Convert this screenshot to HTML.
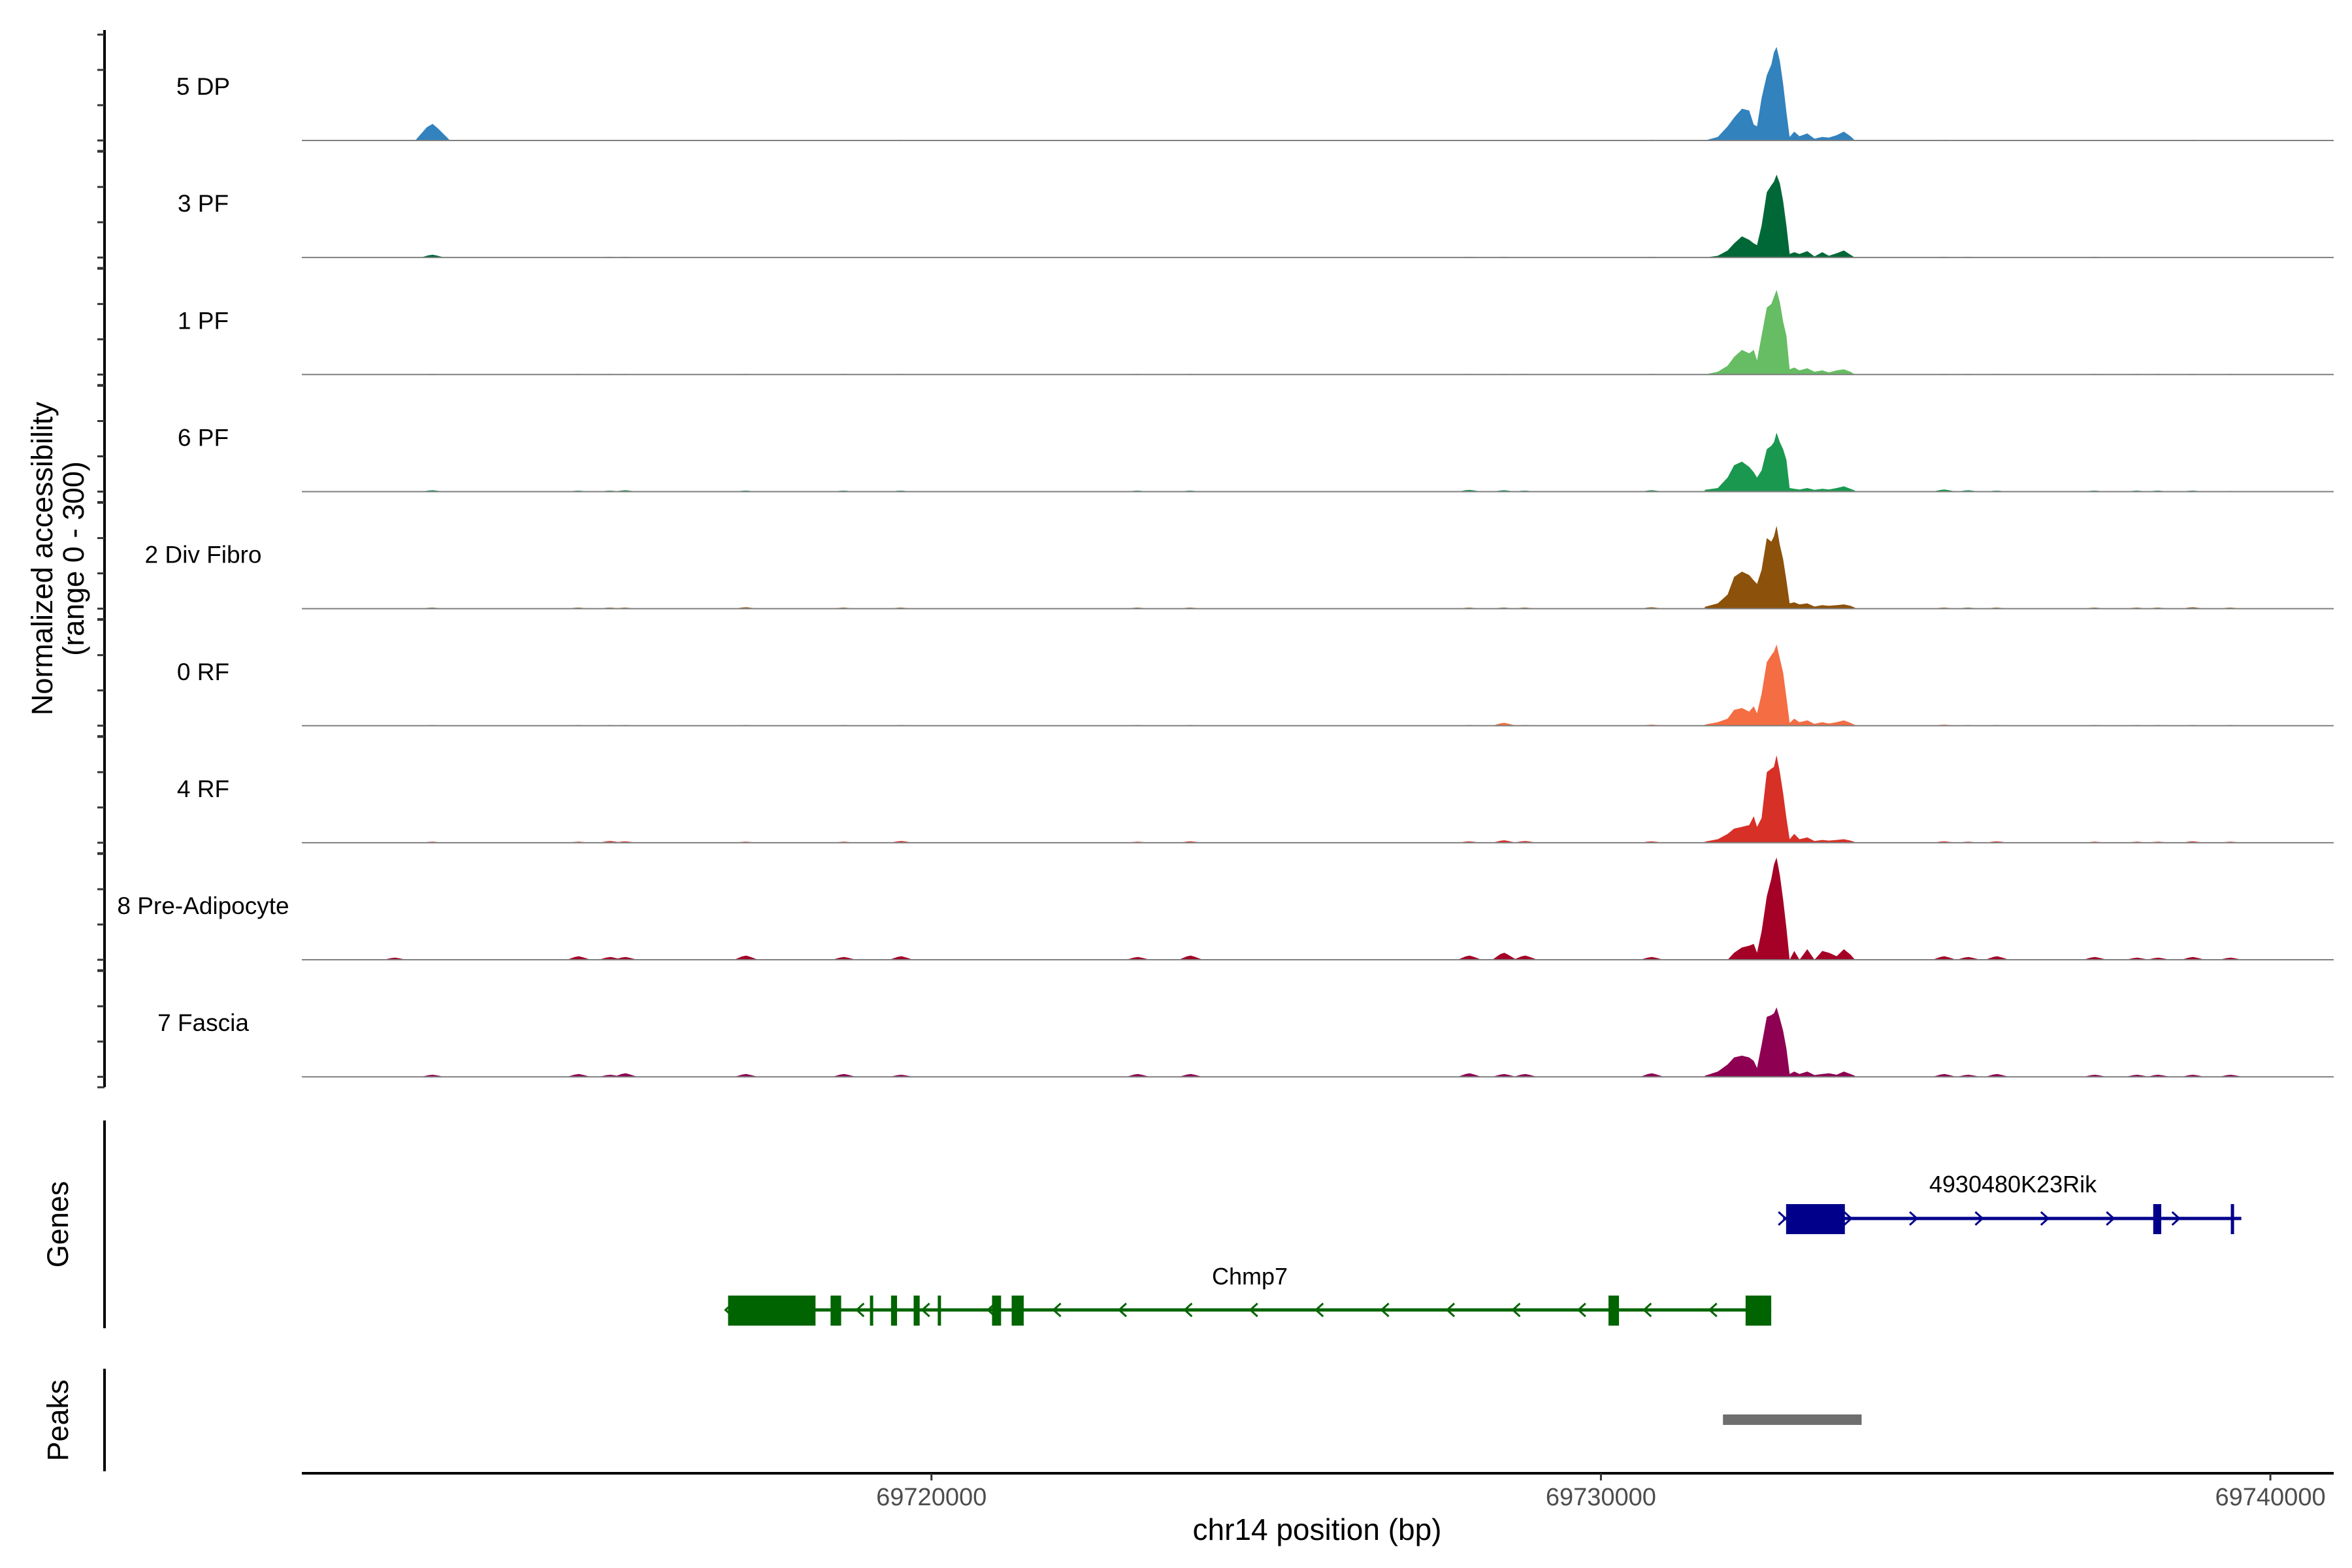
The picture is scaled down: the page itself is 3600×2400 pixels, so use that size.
<!DOCTYPE html>
<html><head><meta charset="utf-8"><style>
html,body{margin:0;padding:0;background:#fff}
svg{display:block;font-family:"Liberation Sans",Arial,sans-serif}
</style></head><body>
<svg id="chart" width="3600" height="2400" viewBox="0 0 3600 2400" xmlns="http://www.w3.org/2000/svg">
<g id="tracks"></g>
<g id="yaxis"></g>
<text transform="translate(80,855) rotate(-90)" text-anchor="middle" font-size="45" fill="#000">Normalized accessibility</text>
<text transform="translate(128,855) rotate(-90)" text-anchor="middle" font-size="45" fill="#000">(range 0 - 300)</text>
<g id="genes"></g>
<line x1="160" y1="1715" x2="160" y2="2033" stroke="#000" stroke-width="4"/>
<text transform="translate(104,1874) rotate(-90)" text-anchor="middle" font-size="45">Genes</text>
<line x1="160" y1="2095" x2="160" y2="2252" stroke="#000" stroke-width="4"/>
<text transform="translate(104,2174) rotate(-90)" text-anchor="middle" font-size="45">Peaks</text>
<g id="peaks"></g>
<g id="xaxis"></g>
<text x="2016" y="2357" text-anchor="middle" font-size="46" fill="#000">chr14 position (bp)</text>
</svg>
<script>
const trackNames = ["5 DP","3 PF","1 PF","6 PF","2 Div Fibro","0 RF","4 RF","8 Pre-Adipocyte","7 Fascia"];
const trackColors = ["#3182bd","#006837","#66bd63","#1a9850","#8c510a","#f46d43","#d73027","#a50026","#8e0152"];
const peakPositions = [69731551,69731746,69731893,69731990,69732107,69732215,69732283,69732332,69732400,69732478,69732546,69732585,69732624,69732673,69732722,69732771,69732819,69732888,69732966,69733083,69733190,69733307,69733405,69733522,69733629,69733727,69733795];
const valsDP5 = [0,10,40,65,90,85,45,40,120,185,215,250,265,225,160,80,10,25,12,20,5,10,8,15,25,12,0];
const valsPF3 = [0,5,20,40,60,50,40,35,90,185,205,215,235,210,160,90,10,15,10,18,3,15,5,12,20,8,0];
const valsPF1 = [0,8,25,50,70,60,70,40,110,190,200,220,240,205,150,110,15,20,12,18,8,12,6,12,15,8,0];
const valsPF6 = [5,10,40,75,85,70,55,40,60,120,130,140,167,140,120,90,10,8,6,10,5,8,6,10,15,8,3];
const valsDiv2 = [5,15,40,90,105,95,80,70,110,200,190,205,235,180,140,80,15,18,12,15,6,10,8,10,12,8,3];
const valsRF0 = [3,10,20,45,50,40,55,35,90,180,200,210,230,190,150,80,8,20,10,15,5,10,6,10,15,8,2];
const valsRF4 = [3,10,25,40,45,50,75,45,70,200,210,215,248,200,140,70,10,25,10,15,5,8,6,8,10,6,2];
const valsPre8 = [0,0,0,20,35,40,45,20,80,180,230,270,290,240,170,90,0,25,0,30,0,25,20,10,30,15,0];
const valsFas7 = [3,15,35,55,60,55,45,25,90,170,175,180,197,165,130,80,8,15,8,15,5,8,10,6,15,8,3];
const allVals = [valsDP5,valsPF3,valsPF1,valsPF6,valsDiv2,valsRF0,valsRF4,valsPre8,valsFas7];
const bumpPos = [69711987,69712549,69714733,69715206,69715431,69717232,69718696,69719551,69723086,69723874,69728039,69728557,69728872,69730763,69735131,69735491,69735919,69737382,69738013,69738328,69738846,69739409];
const bumpDP5 = [0,47,0,0,0,0,0,2,0,0,0,0,0,2,2,0,0,0,0,0,2,0];
const bumpPF3 = [0,8,0,2,2,0,0,0,0,0,2,2,0,2,2,2,0,2,0,0,0,0];
const bumpPF1 = [0,2,2,2,2,2,2,2,2,2,2,2,2,2,2,2,2,2,2,2,2,2];
const bumpPF6 = [0,4,3,3,4,3,3,3,3,3,5,4,3,4,6,4,3,3,3,3,3,2];
const bumpDiv2 = [0,3,3,3,3,4,3,3,3,3,3,3,3,4,3,3,3,3,3,3,4,3];
const bumpRF0 = [0,2,2,2,2,2,2,2,2,2,2,8,2,3,3,2,2,2,2,2,2,2];
const bumpRF4 = [0,3,3,5,4,3,3,5,3,4,4,7,5,4,4,3,4,3,3,3,4,3];
const bumpPre8 = [6,0,10,8,8,12,8,10,8,12,12,20,12,8,10,8,10,8,6,6,8,6];
const bumpFas7 = [0,6,8,6,10,8,8,6,8,8,10,8,8,10,8,6,8,6,6,6,6,6];
const allBumps = [bumpDP5,bumpPF3,bumpPF1,bumpPF6,bumpDiv2,bumpRF0,bumpRF4,bumpPre8,bumpFas7];
const xTicks = [69720000,69730000,69740000];
const xTickLabels = ["69720000","69730000","69740000"];
const peakRegions = [[69731823,69733894]];
const geneNames = ["4930480K23Rik","Chmp7"];
const geneStrands = [1,-1];
const geneStarts = [69732721,69716962];
const geneEnds = [69739566,69732544];
const geneExons = [
  [[69732766,69733644],[69738250,69738370],[69739409,69739454]],
  [[69716962,69718268],[69718493,69718651],[69719081,69719126],[69719396,69719486],[69719734,69719824],[69720094,69720117],[69720905,69721040],[69721198,69721378],[69730113,69730270],[69732161,69732544]]
];
const geneColors = ["#00008b","#006400"];

const NS="http://www.w3.org/2000/svg";
const X0=462,X1=3572,D0=69710595,D1=69740946;
function xs(bp){return X0+(bp-D0)*(X1-X0)/(D1-D0);}
const BASE0=215,STEP=179.15,HPX=162/300;
function ys(i,v){return BASE0+i*STEP - v*HPX;}
function mk(tag,attrs,parent){const e=document.createElementNS(NS,tag);for(const k in attrs)e.setAttribute(k,attrs[k]);parent.appendChild(e);return e;}

const gT=document.getElementById('tracks');
trackNames.forEach((name,i)=>{
  const base=ys(i,0);
  const g=mk('g',{},gT);
  
  
  bumpPos.forEach((p,j)=>{
    const v=allBumps[i][j]; if(!v) return;
    const w=(p===69712549&&i===0)?260:180;
    const pb=mk('path',{d:`M${xs(p-w)},${base} L${xs(p-w/3)},${ys(i,v*0.8)} L${xs(p)},${ys(i,v)} L${xs(p+w/3)},${ys(i,v*0.7)} L${xs(p+w)},${base} Z`,fill:trackColors[i]},g);
    
    
  });
  let d=`M${xs(peakPositions[0])},${base}`;
  peakPositions.forEach((p,j)=>{d+=` L${xs(p)},${ys(i,allVals[i][j])}`;});
  d+=` L${xs(peakPositions[peakPositions.length-1])},${base} Z`;
  const pa=mk('path',{d:d,fill:trackColors[i]},g);
  
  
  const bl=mk('line',{x1:X0,x2:X1,y1:base,y2:base,stroke:'#7f7f7f','stroke-width':2},g);
  
  
  const t=mk('text',{x:311,y:base-70,'text-anchor':'middle','font-size':37,fill:'#000'},g);
  t.textContent=name;
  
  
});

const gY=document.getElementById('yaxis');
const yl=mk('line',{x1:160,x2:160,y1:46,y2:1664,stroke:'#000','stroke-width':4},gY);


trackNames.forEach((n,i)=>{
  [0,100,200,300].forEach(v=>{
    const tk=mk('line',{x1:149,x2:160,y1:ys(i,v),y2:ys(i,v),stroke:'#333','stroke-width':3},gY);
    
    
  });
  const tk=mk('line',{x1:149,x2:160,y1:ys(i,0)+16,y2:ys(i,0)+16,stroke:'#333','stroke-width':3},gY);
  
  
});

const gG=document.getElementById('genes');
const geneY=[1865,2005];
geneNames.forEach((gn,k)=>{
  const g=mk('g',{},gG);
  
  
  const c=geneColors[k],y=geneY[k];
  const ln=mk('line',{x1:xs(geneStarts[k]),x2:xs(geneEnds[k]),y1:y,y2:y,stroke:c,'stroke-width':5},g);
  
  
  for(let p=geneStarts[k];p<=geneEnds[k];p+=980){
    const x=xs(p),dir=geneStrands[k];
    const a=mk('path',{d:`M${x-7*dir},${y-10} L${x+4*dir},${y} L${x-7*dir},${y+10}`,fill:'none',stroke:c,'stroke-width':3},g);
    
    
  }
  geneExons[k].forEach(ex=>{
    const r=mk('rect',{x:xs(ex[0]),y:y-22,width:Math.max(5,xs(ex[1])-xs(ex[0])),height:46,fill:c},g);
    
    
  });
  const lx=k===0?3081:1913, ly=k===0?1825:1966;
  const t=mk('text',{x:lx,y:ly,'text-anchor':'middle','font-size':36,fill:'#000'},g);
  t.textContent=gn;
  
  
});

const gP=document.getElementById('peaks');
peakRegions.forEach(r=>{
  const rc=mk('rect',{x:xs(r[0]),y:2165,width:xs(r[1])-xs(r[0]),height:16,fill:'#6e6e6e'},gP);
  
  
});

const gX=document.getElementById('xaxis');
const xl=mk('line',{x1:X0,x2:X1,y1:2255,y2:2255,stroke:'#000','stroke-width':4},gX);


xTicks.forEach((t,i)=>{
  const x=xs(t);
  const tk=mk('line',{x1:x,x2:x,y1:2255,y2:2266,stroke:'#333','stroke-width':3},gX);
  
  
  const tl=mk('text',{x:x,y:2304,'text-anchor':'middle','font-size':38,fill:'#4d4d4d'},gX);
  tl.textContent=xTickLabels[i];
  
  
});
</script>
</body></html>
